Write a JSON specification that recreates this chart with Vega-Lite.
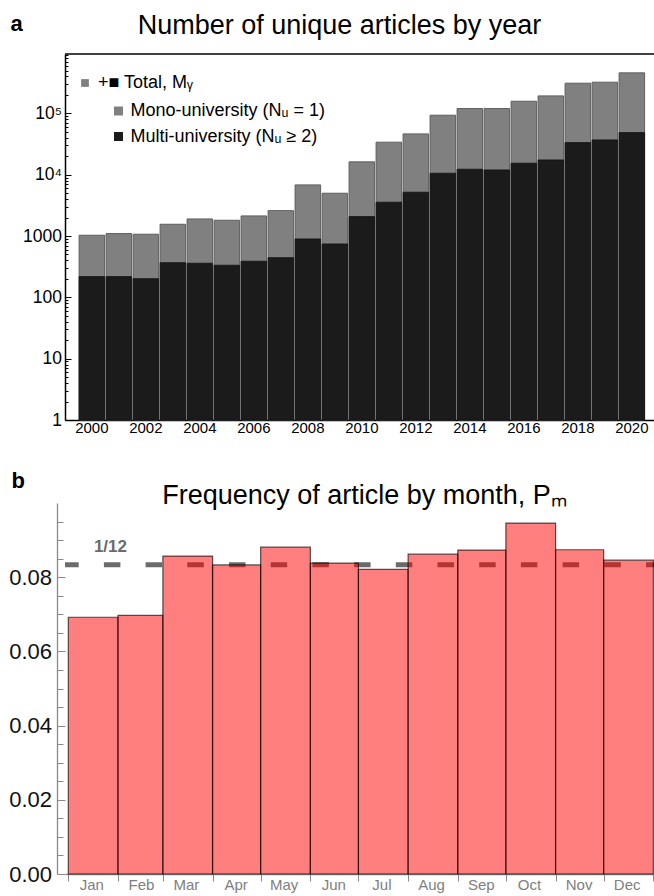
{
  "$schema": "https://vega.github.io/schema/vega-lite/v6.json",
  "padding": {"left": 8, "top": 12, "right": 0, "bottom": 8},
  "spacing": 33,
  "config": {
    "view": {"stroke": null},
    "font": "Liberation Sans",
    "axis": {"grid": false, "labelFont": "Liberation Sans", "titleFont": "Liberation Sans"},
    "legend": {"labelFont": "Liberation Sans"}
  },
  "vconcat": [
    {
      "width": 589,
      "height": 366,
      "title": {"text": "Number of unique articles by year", "fontSize": 27, "fontWeight": "normal", "color": "#000", "anchor": "middle", "frame": "group", "dx": -20, "baseline": "alphabetic", "offset": -49},
      "data": {"values": [
        {"year": 2000, "total": 1030, "multi": 218},
        {"year": 2001, "total": 1096, "multi": 218},
        {"year": 2002, "total": 1070, "multi": 202},
        {"year": 2003, "total": 1556, "multi": 368},
        {"year": 2004, "total": 1900, "multi": 360},
        {"year": 2005, "total": 1808, "multi": 334},
        {"year": 2006, "total": 2128, "multi": 388},
        {"year": 2007, "total": 2596, "multi": 444},
        {"year": 2008, "total": 6820, "multi": 897},
        {"year": 2009, "total": 4990, "multi": 743},
        {"year": 2010, "total": 16200, "multi": 2074},
        {"year": 2011, "total": 33900, "multi": 3560},
        {"year": 2012, "total": 46300, "multi": 5180},
        {"year": 2013, "total": 93400, "multi": 10570},
        {"year": 2014, "total": 120000, "multi": 12280},
        {"year": 2015, "total": 120000, "multi": 11970},
        {"year": 2016, "total": 157900, "multi": 15400},
        {"year": 2017, "total": 192800, "multi": 17420},
        {"year": 2018, "total": 310500, "multi": 33400},
        {"year": 2019, "total": 322700, "multi": 36980},
        {"year": 2020, "total": 458000, "multi": 48600}
      ]},
      "layer": [
        {
          "mark": {"type": "bar", "stroke": "#5e5e5e", "strokeWidth": 1},
          "encoding": {
            "x": {"field": "year", "type": "ordinal",
              "scale": {"paddingInner": 0.055, "paddingOuter": 0.435, "align": 0.6},
              "axis": {"title": null, "labelAngle": 0, "labelExpr": "datum.value % 2 == 0 ? datum.label : ''", "labelFontSize": 15, "labelColor": "#000", "tickSize": -4, "tickColor": "#000", "labelPadding": 4.5, "domainColor": "#000", "domainWidth": 1.5}},
            "y": {"field": "total", "type": "quantitative", "stack": null,
              "scale": {"type": "log", "domain": [1, 930000], "nice": false},
              "axis": {
                "values": [1,2,3,4,5,6,7,8,9,10,20,30,40,50,60,70,80,90,100,200,300,400,500,600,700,800,900,1000,2000,3000,4000,5000,6000,7000,8000,9000,10000,20000,30000,40000,50000,60000,70000,80000,90000,100000,200000,300000,400000,500000,600000,700000,800000,900000],
                "labelExpr": "datum.value == 10000 ? '10⁴' : datum.value == 100000 ? '10⁵' : (indexof([1,10,100,1000], datum.value) >= 0 ? datum.label : '')",
                "format": "d",
                "labelFontSize": 17.5, "labelColor": "#000", "labelOverlap": false, "labelFlush": false, "labelBound": false,
                "tickSize": {"condition": {"test": "indexof([1,10,100,1000,10000,100000], datum.value) >= 0", "value": -6}, "value": -3},
                "tickColor": "#000", "labelPadding": 9.5, "domainColor": "#000", "domainWidth": 1.5,
                "title": "a", "titleAngle": 0, "titleFontSize": 22, "titleFontWeight": "bold", "titleAlign": "left", "titleBaseline": "alphabetic", "titleX": -55, "titleY": -24}},
            "y2": {"datum": 1},
            "color": {"datum": "Mono-university (Nᵤ = 1)", "type": "nominal",
              "scale": {"domain": ["Mono-university (Nᵤ = 1)", "Multi-university (Nᵤ ≥ 2)"], "range": ["#808080", "#1b1b1b"]},
              "legend": {"orient": "none", "legendX": 44.5, "legendY": 48, "title": null, "padding": 0, "labelFontSize": 18, "labelColor": "#000", "labelLimit": 400, "symbolType": "square", "symbolSize": 81, "symbolStrokeWidth": 0, "rowPadding": 7.5, "labelOffset": 3}}
          }
        },
        {
          "mark": {"type": "bar", "stroke": "#111", "strokeWidth": 0.8},
          "encoding": {
            "x": {"field": "year", "type": "ordinal"},
            "y": {"field": "multi", "type": "quantitative", "stack": null},
            "y2": {"datum": 1},
            "color": {"datum": "Multi-university (Nᵤ ≥ 2)", "type": "nominal"}
          }
        },
        {
          "data": {"values": [{"edge": 930000}]},
          "mark": {"type": "rule", "color": "#000", "strokeWidth": 1.5},
          "encoding": {"y": {"field": "edge", "type": "quantitative"}}
        },
        {
          "data": {"values": [{"kind": "+■ Total, Mᵧ"}]},
          "mark": {"type": "point", "filled": true, "color": "#808080", "opacity": 0},
          "encoding": {
            "shape": {"field": "kind", "type": "nominal", "scale": {"range": ["square"]},
              "legend": {"orient": "none", "legendX": 11, "legendY": 20, "title": null, "padding": 0, "labelFontSize": 18, "labelColor": "#000", "labelLimit": 400, "symbolSize": 60, "symbolFillColor": "#808080", "symbolStrokeColor": "#808080", "symbolStrokeWidth": 0, "symbolOpacity": 1, "labelOffset": 4}}
          }
        }
      ]
    },
    {
      "width": 589,
      "height": 371,
      "title": {"text": "Frequency of article by month, Pₘ", "fontSize": 27, "fontWeight": "normal", "color": "#000", "anchor": "middle", "frame": "group", "dx": 5, "baseline": "alphabetic", "offset": -62},
      "encoding": {
        "y": {"field": "p", "type": "quantitative",
          "scale": {"domain": [0, 0.1], "nice": false, "zero": true},
          "axis": {
            "values": [0,0.005,0.01,0.015,0.02,0.025,0.03,0.035,0.04,0.045,0.05,0.055,0.06,0.065,0.07,0.075,0.08,0.085,0.09,0.095],
            "labelExpr": "indexof([0,0.02,0.04,0.06,0.08], datum.value) >= 0 ? format(datum.value, '.2f') : ''",
            "labelFontSize": 22, "labelColor": "#111", "labelOverlap": false, "labelFlush": false, "labelBound": false,
            "tickSize": {"condition": {"test": "indexof([0,0.02,0.04,0.06,0.08], datum.value) >= 0", "value": -8}, "value": -6},
            "tickColor": "#8a8a8a", "domainColor": "#8a8a8a", "domainWidth": 1.3, "labelPadding": 13.5, "offset": 8,
            "title": "b", "titleAngle": 0, "titleFontSize": 22, "titleFontWeight": "bold", "titleAlign": "left", "titleBaseline": "alphabetic", "titleX": -46, "titleY": -16}}
      },
      "layer": [
        {
          "data": {"values": [{"p": 0.0833333, "label": "1/12"}]},
          "mark": {"type": "rule", "color": "#6b6b6b", "strokeWidth": 5, "strokeDash": [16.5, 25.2], "strokeDashOffset": 8.5},
          "encoding": {}
        },
        {
          "data": {"values": [
            {"month": "Jan", "start": 0, "end": 31, "p": 0.0692},
            {"month": "Feb", "start": 31, "end": 59, "p": 0.0697},
            {"month": "Mar", "start": 59, "end": 90, "p": 0.0857},
            {"month": "Apr", "start": 90, "end": 120, "p": 0.0833},
            {"month": "May", "start": 120, "end": 151, "p": 0.0881},
            {"month": "Jun", "start": 151, "end": 181, "p": 0.0838},
            {"month": "Jul", "start": 181, "end": 212, "p": 0.0821},
            {"month": "Aug", "start": 212, "end": 243, "p": 0.0862},
            {"month": "Sep", "start": 243, "end": 273, "p": 0.0873},
            {"month": "Oct", "start": 273, "end": 304, "p": 0.0946},
            {"month": "Nov", "start": 304, "end": 334, "p": 0.0874},
            {"month": "Dec", "start": 334, "end": 365, "p": 0.0846}
          ]},
          "mark": {"type": "bar", "fill": "#ff0000", "fillOpacity": 0.5, "stroke": "#000", "strokeOpacity": 0.65, "strokeWidth": 1.2},
          "encoding": {
            "x": {"field": "start", "type": "quantitative",
              "scale": {"domain": [-2.06, 365.4], "nice": false, "zero": false},
              "axis": {
                "values": [0,31,59,90,120,151,181,212,243,273,304,334,365],
                "labelExpr": "datum.value == 0 ? 'Jan' : datum.value == 31 ? 'Feb' : datum.value == 59 ? 'Mar' : datum.value == 90 ? 'Apr' : datum.value == 120 ? 'May' : datum.value == 151 ? 'Jun' : datum.value == 181 ? 'Jul' : datum.value == 212 ? 'Aug' : datum.value == 243 ? 'Sep' : datum.value == 273 ? 'Oct' : datum.value == 304 ? 'Nov' : datum.value == 334 ? 'Dec' : ''",
                "labelFontSize": 15, "labelColor": "#808080", "labelOverlap": false, "labelFlush": false, "labelBound": false,
                "labelOffset": 23, "tickSize": 7,
                "tickColor": "#8a8a8a", "domainColor": "#8a8a8a", "domainWidth": 1.3, "labelPadding": -4, "title": null}},
            "x2": {"field": "end"},
            "y2": {"datum": 0}
          }
        },
        {
          "data": {"values": [{"p": 0.0833333, "label": "1/12"}]},
          "mark": {"type": "text", "font": "Liberation Sans", "fontSize": 17, "fontWeight": "bold", "color": "#6b6b6b", "dy": -18},
          "encoding": {
            "x": {"datum": 26.3},
            "text": {"field": "label"}
          }
        }
      ]
    }
  ]
}
